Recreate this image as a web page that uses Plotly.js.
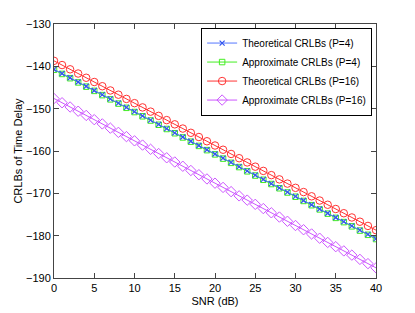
<!DOCTYPE html>
<html>
<head>
<meta charset="utf-8">
<script src="https://cdn.plot.ly/plotly-3.0.1.min.js"></script>
<style>html,body{margin:0;padding:0;background:#fff;}#chart{width:415px;height:313px;}</style>
</head>
<body>
<div id="chart"></div>
<script>
var snr = [0,1,2,3,4,5,6,7,8,9,10,11,12,13,14,15,16,17,18,19,20,21,22,23,24,25,26,27,28,29,30,31,32,33,34,35,36,37,38,39,40];
var theoP4 = [-140.7,-141.7,-142.7,-143.7,-144.7,-145.7,-146.7,-147.7,-148.7,-149.7,-150.7,-151.7,-152.7,-153.7,-154.7,-155.7,-156.7,-157.7,-158.7,-159.7,-160.7,-161.7,-162.7,-163.7,-164.7,-165.7,-166.7,-167.7,-168.7,-169.7,-170.7,-171.7,-172.7,-173.7,-174.7,-175.7,-176.7,-177.7,-178.7,-179.7,-180.7];
var approxP4 = [-140.8,-141.8,-142.8,-143.8,-144.8,-145.8,-146.8,-147.8,-148.8,-149.8,-150.8,-151.8,-152.8,-153.8,-154.8,-155.8,-156.8,-157.8,-158.8,-159.8,-160.8,-161.8,-162.8,-163.8,-164.8,-165.8,-166.8,-167.8,-168.8,-169.8,-170.8,-171.8,-172.8,-173.8,-174.8,-175.8,-176.8,-177.8,-178.8,-179.8,-180.8];
var theoP16 = [-138.7,-139.7,-140.7,-141.7,-142.7,-143.7,-144.7,-145.7,-146.7,-147.7,-148.7,-149.7,-150.7,-151.7,-152.7,-153.7,-154.7,-155.7,-156.7,-157.7,-158.7,-159.7,-160.7,-161.7,-162.7,-163.7,-164.7,-165.7,-166.7,-167.7,-168.7,-169.7,-170.7,-171.7,-172.7,-173.7,-174.7,-175.7,-176.7,-177.7,-178.7];
var approxP16 = [-147.6,-148.6,-149.6,-150.6,-151.6,-152.6,-153.6,-154.6,-155.6,-156.6,-157.6,-158.6,-159.6,-160.6,-161.6,-162.6,-163.6,-164.6,-165.6,-166.6,-167.6,-168.6,-169.6,-170.6,-171.6,-172.6,-173.6,-174.6,-175.6,-176.6,-177.6,-178.6,-179.6,-180.6,-181.6,-182.6,-183.6,-184.6,-185.6,-186.6,-187.6];
var names = ['Theoretical CRLBs (P=4)','Approximate CRLBs (P=4)','Theoretical CRLBs (P=16)','Approximate CRLBs (P=16)'];
var xTicks = [0,5,10,15,20,25,30,35,40];
var yTicks = [-190,-180,-170,-160,-150,-140,-130];

var traces = [
  {x: snr, y: approxP4, name: names[1], mode: 'lines+markers', line: {color: '#44ee22', width: 1},
   marker: {symbol: 'square-open', size: 5.5, color: '#44ee22', line: {width: 1}}, legendrank: 2},
  {x: snr, y: theoP4, name: names[0], mode: 'lines+markers', line: {color: '#5577ff', width: 1},
   marker: {symbol: 'x-thin-open', size: 5, color: '#3355ee', line: {width: 1.2, color: '#3355ee'}}, legendrank: 1},
  {x: snr, y: theoP16, name: names[2], mode: 'lines+markers', line: {color: '#ff3333', width: 1},
   marker: {symbol: 'circle-open', size: 7.5, color: '#ff3333', line: {width: 1}}, legendrank: 3},
  {x: snr, y: approxP16, name: names[3], mode: 'lines+markers', line: {color: '#cc55ff', width: 1},
   marker: {symbol: 'diamond-open', size: 8, color: '#cc55ff', line: {width: 1}}, legendrank: 4}
];

var axisCommon = {
  showgrid: false, zeroline: false, showline: true, linecolor: '#444', linewidth: 1,
  mirror: 'ticks', ticks: 'inside', ticklen: 5, tickcolor: '#444', tickwidth: 1,
  tickfont: {family: 'Liberation Sans, Arial, sans-serif', size: 11, color: '#000'}
};

var layout = {
  width: 415, height: 313,
  margin: {l: 54, r: 39, t: 24, b: 35},
  paper_bgcolor: '#fff', plot_bgcolor: '#fff',
  font: {family: 'Liberation Sans, Arial, sans-serif', size: 11, color: '#000'},
  xaxis: Object.assign({}, axisCommon, {range: [0, 40], tickvals: xTicks, ticktext: xTicks.map(String),
    title: {text: 'SNR (dB)', font: {size: 11}, standoff: 4}}),
  yaxis: Object.assign({}, axisCommon, {range: [-190, -130], tickvals: yTicks,
    title: {text: 'CRLBs of Time Delay', font: {size: 11}, standoff: 1}}),
  showlegend: true,
  legend: {x: 0.988, y: 0.986, xanchor: 'right', yanchor: 'top', bgcolor: '#fff',
    bordercolor: '#000', borderwidth: 1, font: {size: 10}, tracegroupgap: 0,
    itemwidth: 30}
};

Plotly.newPlot('chart', traces, layout, {displayModeBar: false, staticPlot: true});
</script>
</body>
</html>
